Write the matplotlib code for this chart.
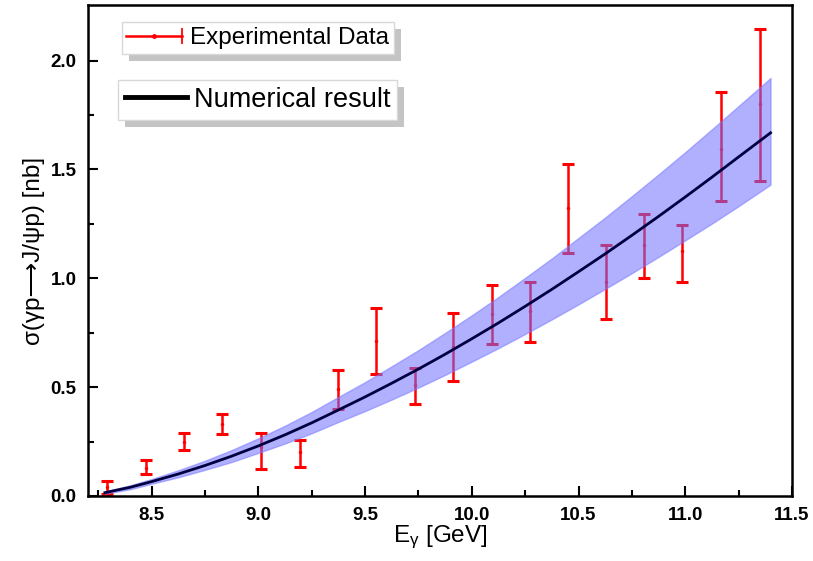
import matplotlib
matplotlib.use('Agg')
import matplotlib.pyplot as plt
from matplotlib.lines import Line2D
from matplotlib.patches import Rectangle
from matplotlib.legend_handler import HandlerBase

plt.rcParams['font.family'] = ['Liberation Sans', 'DejaVu Sans']
plt.rcParams['mathtext.fontset'] = 'custom'
plt.rcParams['mathtext.rm'] = 'Liberation Sans'
plt.rcParams['mathtext.it'] = 'Liberation Sans:italic'

# experimental data (E_gamma, sigma, lower/upper end of error bar)
e_exp = [8.29, 8.475, 8.653, 8.83, 9.013, 9.193, 9.372, 9.549, 9.732,
         9.913, 10.094, 10.274, 10.452, 10.63, 10.809, 10.987, 11.17, 11.352]
sig_exp = [0.04, 0.13, 0.25, 0.33, 0.227, 0.20, 0.49, 0.711, 0.509,
           0.686, 0.835, 0.851, 1.323, 0.985, 1.154, 1.123, 1.595, 1.801]
sig_hi = [0.07, 0.165, 0.29, 0.377, 0.288, 0.257, 0.579, 0.861, 0.587,
          0.841, 0.967, 0.985, 1.526, 1.151, 1.297, 1.243, 1.854, 2.143]
sig_lo = [0.01, 0.10, 0.21, 0.285, 0.123, 0.135, 0.40, 0.558, 0.423,
          0.53, 0.697, 0.709, 1.117, 0.815, 1.001, 0.985, 1.355, 1.445]

# numerical result and its band
e_th = [8.28, 8.4, 8.5, 8.625, 8.75, 8.875, 9.0, 9.125, 9.25, 9.375, 9.5, 9.625, 9.75,
        9.875, 10.0, 10.125, 10.25, 10.375, 10.5, 10.625, 10.75, 10.875, 11.0,
        11.125, 11.25, 11.4]
sig_th = [0.015, 0.04, 0.066, 0.101, 0.14, 0.183, 0.23, 0.281, 0.336, 0.395, 0.455,
          0.518, 0.583, 0.651, 0.722, 0.795, 0.871, 0.949, 1.03, 1.112, 1.197,
          1.284, 1.373, 1.464, 1.557, 1.668]
band_up = [0.02, 0.049, 0.078, 0.118, 0.162, 0.211, 0.265, 0.323, 0.386, 0.455, 0.523,
           0.596, 0.67, 0.749, 0.83, 0.914, 1.002, 1.091, 1.185, 1.279, 1.377,
           1.477, 1.579, 1.684, 1.791, 1.92]
band_dn = [0.01, 0.031, 0.056, 0.086, 0.12, 0.156, 0.198, 0.241, 0.288, 0.34, 0.39,
           0.443, 0.498, 0.556, 0.617, 0.679, 0.744, 0.811, 0.88, 0.951, 1.023,
           1.098, 1.174, 1.251, 1.331, 1.43]


class ErrHandle(HandlerBase):
    # red line with a dot in the middle and a cap on the right end
    def create_artists(self, legend, orig_handle, xdescent, ydescent, width, height, fontsize, trans):
        yc = height / 2 - ydescent
        line = Line2D([-xdescent, width - xdescent], [yc, yc], color='red', lw=1.8, transform=trans)
        dot = Line2D([width / 2 - xdescent], [yc], marker='o', ms=2.5, color='red', transform=trans)
        cap = Line2D([width - xdescent] * 2, [yc - 5, yc + 5], color='red', lw=1.3, transform=trans)
        return [line, dot, cap]


fig = plt.figure(figsize=(8.13, 5.61), dpi=100)
ax = fig.add_axes([0.108, 0.116, 0.866, 0.875])

err = [[s - l for s, l in zip(sig_exp, sig_lo)], [h - s for s, h in zip(sig_exp, sig_hi)]]
eb = ax.errorbar(e_exp, sig_exp, yerr=err, fmt='.', color='red', ms=3, lw=1.8,
                 capsize=4, capthick=2.2, zorder=2)
ax.fill_between(e_th, band_dn, band_up, facecolor='#7070ff', alpha=0.55,
                edgecolor='#7a7aff', lw=1, zorder=3)
ax.plot(e_th, sig_th, color='#000040', lw=2, zorder=4)

ax.set_xlim(8.2, 11.5)
ax.set_ylim(0, 2.255)
ax.set_xticks([8.5, 9.0, 9.5, 10.0, 10.5, 11.0, 11.5])
ax.set_xticks([8.25, 8.75, 9.25, 9.75, 10.25, 10.75, 11.25], minor=True)
ax.set_yticks([0.0, 0.5, 1.0, 1.5, 2.0])
ax.set_yticks([0.25, 0.75, 1.25, 1.75], minor=True)
ax.tick_params(which='both', direction='in', width=1.5, labelsize=13.5, pad=8)
ax.tick_params(which='major', length=7)
ax.tick_params(which='minor', length=4)
for lab in ax.get_xticklabels() + ax.get_yticklabels():
    lab.set_fontweight('bold')
for sp in ax.spines.values():
    sp.set_linewidth(1.8)

ax.set_xlabel(r'E$_\mathregular{\gamma}$ [GeV]', fontsize=17.5, labelpad=0)
ax.set_ylabel('σ(γp⟶J/ψp) [nb]', fontsize=17.5, labelpad=4)

# two separate legend boxes with grey drop shadows
leg1 = ax.legend([eb], ['Experimental Data'], loc='upper left', bbox_to_anchor=(0.048, 0.965),
                 fontsize=17.5, frameon=True, fancybox=False, framealpha=1, handlelength=2.3,
                 borderpad=0.2, handletextpad=0.3, borderaxespad=0,
                 handler_map={type(eb): ErrHandle()})
leg1.get_frame().set_edgecolor('#d8d8d8')
ax.add_artist(leg1)
h_line = Line2D([], [], color='black', lw=3.5)
leg2 = ax.legend([h_line], ['Numerical result'], loc='upper left', bbox_to_anchor=(0.043, 0.847),
                 fontsize=19.5, frameon=True, fancybox=False, framealpha=1, handlelength=2.3,
                 borderpad=0.25, handletextpad=0.25, borderaxespad=0)
leg2.get_frame().set_edgecolor('#d8d8d8')

fig.canvas.draw()
inv = ax.transAxes.inverted()
for lg in (leg1, leg2):
    bb = lg.get_frame().get_window_extent()
    x0, y0 = inv.transform((bb.x0 + 7, bb.y0 - 7))
    x1, y1 = inv.transform((bb.x1 + 7, bb.y1 - 7))
    ax.add_patch(Rectangle((x0, y0), x1 - x0, y1 - y0, transform=ax.transAxes,
                           facecolor='#c4c4c4', edgecolor='none', zorder=4.5, clip_on=False))
    lg.set_zorder(5)

fig.savefig('out.png', dpi=100)
